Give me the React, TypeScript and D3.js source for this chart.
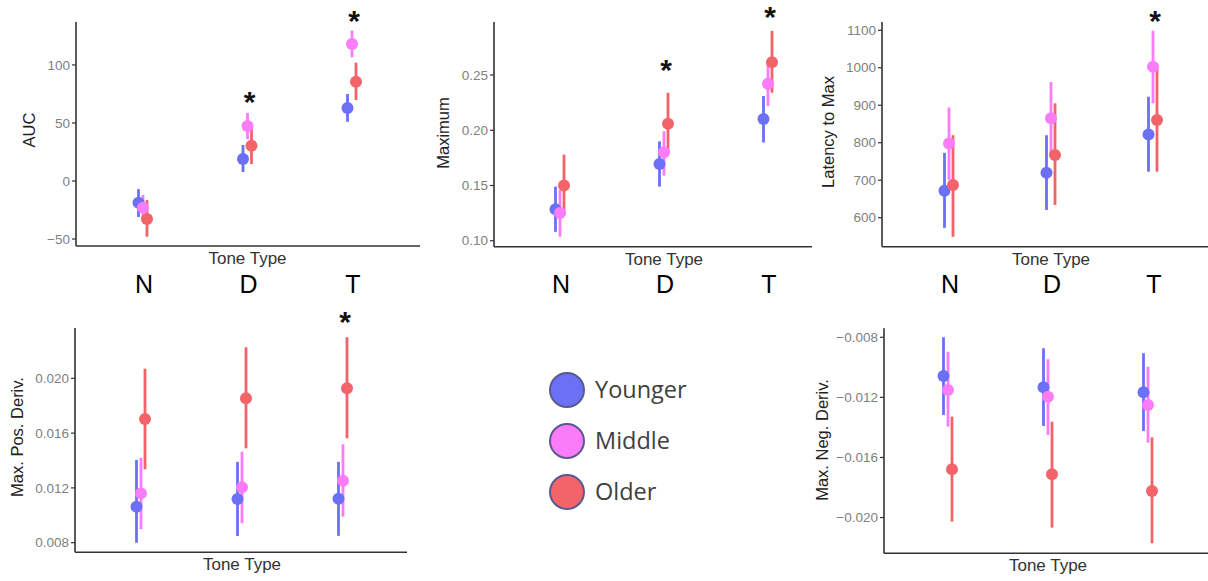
import React from "react";
import * as d3 from "d3";

// ---- data ----
const categories = ["N", "D", "T"];
const groups = ["Younger", "Middle", "Older"];
const groupColors = ["#6b70f5", "#fa7cf8", "#f2646a"];

// each entry: [mean, low, high] for N, D, T
const aucYounger = [[-18.7, -31, -7], [19, 7.7, 31], [63, 51, 75]];
const aucMiddle = [[-23, -35, -12], [47.4, 36, 58.6], [118, 106.6, 129.6]];
const aucOlder = [[-32.8, -48, -16.4], [30.4, 14.6, 46], [85.6, 69.8, 102]];
const aucTicks = [-50, 0, 50, 100];
const aucStars: [string, number][] = [["D", 70.7], ["T", 140.5]];

const maxYounger = [[0.1284, 0.108, 0.149], [0.1695, 0.149, 0.19], [0.2102, 0.189, 0.231]];
const maxMiddle = [[0.125, 0.1036, 0.146], [0.18, 0.159, 0.199], [0.242, 0.222, 0.262]];
const maxOlder = [[0.15, 0.123, 0.178], [0.206, 0.179, 0.234], [0.2616, 0.234, 0.29]];
const maxTicks = [0.1, 0.15, 0.2, 0.25];
const maxStars: [string, number][] = [["D", 0.2576], ["T", 0.3053]];

const latYounger = [[672, 573, 773], [720, 620.5, 820], [822, 722.7, 922.7]];
const latMiddle = [[798, 700, 894], [865, 770, 962], [1002.7, 905, 1098.7]];
const latOlder = [[687, 549, 820], [767, 634, 905], [860.5, 722.7, 998]];
const latTicks = [600, 700, 800, 900, 1000, 1100];
const latStars: [string, number][] = [["T", 1132.5]];

const posYounger = [[0.01063, 0.008, 0.01404], [0.01119, 0.00849, 0.0139], [0.0112, 0.0085, 0.0139]];
const posMiddle = [[0.0116, 0.00898, 0.0142], [0.01204, 0.00942, 0.01464], [0.01253, 0.0099, 0.01518]];
const posOlder = [[0.01703, 0.01336, 0.0207], [0.01854, 0.01489, 0.02226], [0.01927, 0.01562, 0.023]];
const posTicks = [0.008, 0.012, 0.016, 0.02];
const posStars: [string, number][] = [["T", 0.0243]];

const negYounger = [[-0.01058, -0.01317, -0.008], [-0.01133, -0.0139, -0.00873], [-0.01166, -0.01424, -0.00906]];
const negMiddle = [[-0.01151, -0.01395, -0.00896], [-0.01195, -0.0145, -0.00946], [-0.0125, -0.01502, -0.00996]];
const negOlder = [[-0.01679, -0.02027, -0.01328], [-0.01712, -0.02067, -0.01362], [-0.01823, -0.02171, -0.01466]];
const negTicks = [-0.02, -0.016, -0.012, -0.008];
const negStars: [string, number][] = [];

type PanelProps = {
  series: number[][][];
  ticks: number[];
  fmt: (v: number) => string;
  stars: [string, number][];
  yTitle: string;
  yDomain: [number, number];
  left: number;
  right: number;
  top: number;
  bottom: number;
  cFirst: number;
  cLast: number;
  titleX: number;
  titleY: number;
  bigLabels: boolean;
};

const dodge = [-4.5, 0, 4];

function Panel(p: PanelProps) {
  const x = d3.scalePoint<string>().domain(categories).range([p.cFirst, p.cLast]);
  const y = d3.scaleLinear().domain(p.yDomain).range([p.bottom, p.top]);
  const axisColor = "#333";
  return (
    <g>
      {/* error bars */}
      {p.series.map((s, gi) =>
        s.map((d, ci) => (
          <line
            key={`e${gi}-${ci}`}
            x1={(x(categories[ci]) as number) + dodge[gi]}
            x2={(x(categories[ci]) as number) + dodge[gi]}
            y1={y(d[1])}
            y2={y(d[2])}
            stroke={groupColors[gi]}
            strokeWidth={2.8}
          />
        ))
      )}
      {/* points */}
      {p.series.map((s, gi) =>
        s.map((d, ci) => (
          <circle
            key={`p${gi}-${ci}`}
            cx={(x(categories[ci]) as number) + dodge[gi]}
            cy={y(d[0])}
            r={6}
            fill={groupColors[gi]}
          />
        ))
      )}
      {/* axes */}
      <line x1={p.left} x2={p.left} y1={p.top} y2={p.bottom} stroke={axisColor} strokeWidth={1.6} />
      <line x1={p.left} x2={p.right} y1={p.bottom} y2={p.bottom} stroke={axisColor} strokeWidth={1.6} />
      {p.ticks.map((t) => (
        <g key={`t${t}`}>
          <line x1={p.left - 4} x2={p.left} y1={y(t)} y2={y(t)} stroke={axisColor} strokeWidth={1.2} />
          <text
            x={p.left - 6}
            y={y(t)}
            dy="0.35em"
            textAnchor="end"
            fontSize={13.5}
            fill="#808080"
            fontFamily="Liberation Sans, Arial, sans-serif"
          >
            {p.fmt(t)}
          </text>
        </g>
      ))}
      <text
        transform={`translate(${p.titleX},${p.titleY}) rotate(-90)`}
        textAnchor="middle"
        dy="0.35em"
        fontSize={16.5}
        fill="#222"
        fontFamily="Liberation Sans, Arial, sans-serif"
      >
        {p.yTitle}
      </text>
      <text
        x={x("D") as number}
        y={p.bottom + 18}
        textAnchor="middle"
        fontSize={17}
        fill="#333"
        fontFamily="Liberation Sans, Arial, sans-serif"
      >
        Tone Type
      </text>
      {p.stars.map(([c, v]) => (
        <text
          key={`s${c}`}
          x={(x(c) as number) + 2}
          y={y(v) + 13}
          textAnchor="middle"
          fontSize={30}
          fontWeight="bold"
          fill="#111"
          fontFamily="Liberation Sans, Arial, sans-serif"
        >
          *
        </text>
      ))}
      {p.bigLabels &&
        categories.map((c) => (
          <text
            key={`b${c}`}
            x={(x(c) as number) + 1}
            y={293}
            textAnchor="middle"
            fontSize={25}
            fill="#000"
            fontFamily="Liberation Sans, Arial, sans-serif"
          >
            {c}
          </text>
        ))}
    </g>
  );
}

const fmt0 = d3.format("d");
const fmt2 = d3.format(".2f");
const fmt3 = d3.format(".3f");

export default function App() {
  return (
    <svg
      width={1208}
      height={581}
      style={{ position: "absolute", left: 0, top: 0, background: "#fff" }}
    >
      <rect width={1208} height={581} fill="#fff" />
      <Panel
        series={[aucYounger, aucMiddle, aucOlder]}
        ticks={aucTicks}
        fmt={fmt0}
        stars={aucStars}
        yTitle="AUC"
        yDomain={[-56, 137]}
        left={76}
        right={420}
        top={22}
        bottom={246}
        cFirst={143}
        cLast={352}
        titleX={29}
        titleY={130}
        bigLabels={true}
      />
      <Panel
        series={[maxYounger, maxMiddle, maxOlder]}
        ticks={maxTicks}
        fmt={fmt2}
        stars={maxStars}
        yTitle="Maximum"
        yDomain={[0.0946, 0.298]}
        left={494}
        right={812}
        top={22}
        bottom={246.7}
        cFirst={560}
        cLast={768}
        titleX={443}
        titleY={133}
        bigLabels={true}
      />
      <Panel
        series={[latYounger, latMiddle, latOlder]}
        ticks={latTicks}
        fmt={fmt0}
        stars={latStars}
        yTitle="Latency to Max"
        yDomain={[522.7, 1122]}
        left={882}
        right={1208}
        top={22}
        bottom={246.7}
        cFirst={949}
        cLast={1153}
        titleX={828}
        titleY={132}
        bigLabels={true}
      />
      <Panel
        series={[posYounger, posMiddle, posOlder]}
        ticks={posTicks}
        fmt={fmt3}
        stars={posStars}
        yTitle="Max. Pos. Deriv."
        yDomain={[0.0073, 0.02367]}
        left={75}
        right={407}
        top={328}
        bottom={552.3}
        cFirst={141}
        cLast={343}
        titleX={17}
        titleY={437}
        bigLabels={false}
      />
      <Panel
        series={[negYounger, negMiddle, negOlder]}
        ticks={negTicks}
        fmt={fmt3}
        stars={negStars}
        yTitle="Max. Neg. Deriv."
        yDomain={[-0.02238, -0.0074]}
        left={884}
        right={1208}
        top={328.3}
        bottom={553.3}
        cFirst={948}
        cLast={1148}
        titleX={822}
        titleY={440}
        bigLabels={false}
      />
      {/* legend */}
      {groups.map((g, i) => (
        <g key={g}>
          <circle cx={567} cy={390 + i * 51} r={17} fill={groupColors[i]} stroke="#5b5a8e" strokeWidth={2} />
          <text
            x={595}
            y={390 + i * 51}
            dy="0.36em"
            fontSize={23.5}
            fill="#404040"
            fontFamily="Open Sans, Noto Sans, sans-serif"
          >
            {g}
          </text>
        </g>
      ))}
    </svg>
  );
}
